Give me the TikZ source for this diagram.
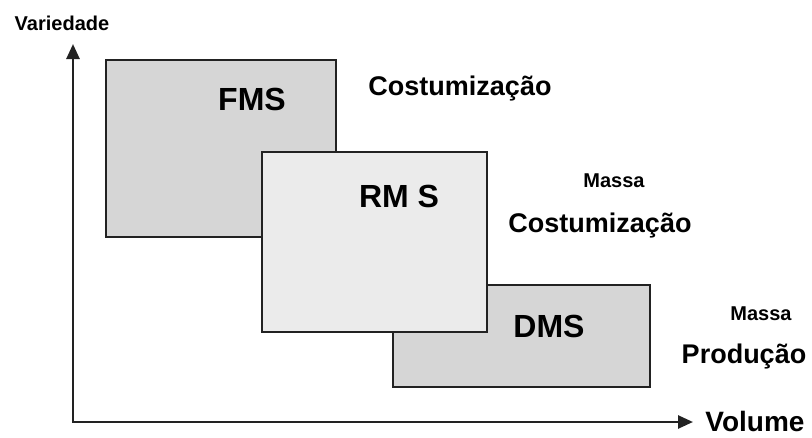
\documentclass[tikz,border=0pt]{standalone}
\usepackage{fontspec}
\setmainfont{Liberation Sans}
\usetikzlibrary{arrows.meta}
\definecolor{boxdark}{HTML}{D6D6D6}
\definecolor{boxlight}{HTML}{EBEBEB}
\definecolor{edge}{HTML}{222222}
\begin{document}
\begin{tikzpicture}[x=1pt,y=-1pt,
  sysbox/.style={draw=edge,line width=2pt,rectangle,inner sep=0pt},
  axisline/.style={line width=2.6pt,draw=edge,-{Triangle[length=15pt,width=13pt]}},
  lbl/.style={anchor=base,inner sep=0pt,font=\bfseries\fontsize{#1}{#1}\selectfont},
  lbl/.default=27]
\useasboundingbox (0,0) rectangle (812,437);
% boxes
\node[sysbox,fill=boxdark,minimum width=230pt,minimum height=177pt] (fms) at (221,148.5) {};
\node[sysbox,fill=boxdark,minimum width=257pt,minimum height=102pt] (dms) at (521.5,336) {};
\node[sysbox,fill=boxlight,minimum width=225pt,minimum height=180pt] (rms) at (374.5,242) {};
% axes
\coordinate (origin) at (73,422);
\coordinate (ytip) at (73,44);
\coordinate (xtip) at (693,422);
\draw[axisline] (origin) -- (ytip);
\draw[axisline] (origin) -- (xtip);
\draw[line width=2.6pt,draw=edge,line cap=rect] (73,410) -- (origin) -- (85,422);
% labels
\node[lbl=32] (tfms) at (252,110) {FMS};
\node[lbl=32] (trms) at (399,207) {RM S};
\node[lbl=32] (tdms) at (549,337) {DMS};
\node[lbl=27] (tc1) at (460,95) {Costumização};
\node[lbl=20] (tm1) at (614,187) {Massa};
\node[lbl=27] (tc2) at (600,232) {Costumização};
\node[lbl=20] (tm2) at (761,320) {Massa};
\node[lbl=27] (tprod) at (744,363) {Produção};
\node[lbl=28] (tvol) at (755,431) {Volume};
\node[lbl=20] (tvar) at (62,30) {Variedade};
\end{tikzpicture}
\end{document}
